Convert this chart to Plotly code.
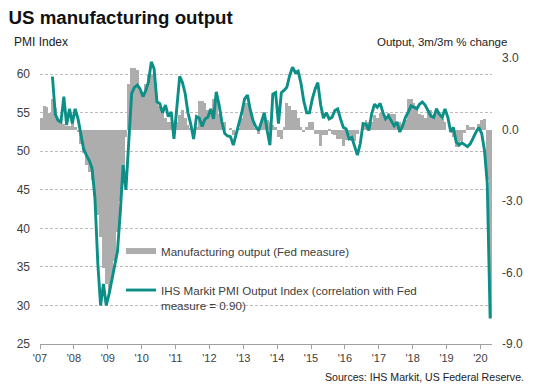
import pandas as pd
import plotly.graph_objects as go

# ---------------- data ----------------
# Fed manufacturing output, 3m/3m % change, monthly Jan 2007 .. Apr 2020
fed_output = [
    0.5, 1.0, 0.95, 0.7, 1.3, 0.9, 0.45, 0.35, 0.25, 0.15, 0.15, 0.3,      # 2007
    0.1, -0.1, -0.6, -1.0, -1.5, -1.8, -2.1, -2.8, -3.6, -4.5, -5.8, -6.5,  # 2008
    -6.8, -6.4, -5.5, -4.3, -3.0, -1.8, -0.3, 1.9, 2.6, 2.6, 2.5, 1.6,      # 2009
    1.5, 1.9, 2.3, 2.3, 2.3, 1.2, 1.0, 0.9, 0.5, 0.3, 0.3, 0.2,             # 2010
    0.3, 0.6, 0.8, 0.5, 0.2, 0.05, 0.0, 0.1, 1.2, 1.2, 1.1, 0.8,            # 2011
    0.7, 1.3, 1.35, 0.65, 0.3, 0.3, 0.0, 0.05, -0.25, 0.0, 0.05, 0.5,       # 2012
    1.1, 1.1, 0.8, 0.4, 0.05, -0.2, 0.3, 0.5, 0.4, 0.3, 0.2, 0.1,           # 2013
    -0.3, -0.4, 0.1, 1.1, 1.0, 0.8, 0.8, 0.5, 0.1, -0.1, 0.1, 0.3,          # 2014
    0.3, -0.2, -0.2, -0.7, -0.25, -0.25, -0.05, -0.2, -0.25, -0.4, -0.4, -0.7,  # 2015
    -0.45, -0.25, -0.5, -0.5, -0.2, 0.0, 0.2, 0.4, 0.3, 0.3, 0.6, 0.5,      # 2016
    0.7, 0.7, 0.5, 0.7, 0.65, 0.65, 0.3, 0.3, 0.25, 0.4, 1.3, 1.3,          # 2017
    1.1, 1.0, 0.65, 0.6, 0.5, 0.8, 0.8, 0.6, 0.9, 0.6, 0.45, 0.3,           # 2018
    0.0, 0.05, -0.3, -0.75, -0.75, -0.5, -0.15, 0.2, 0.1, 0.1, 0.0, 0.25,   # 2019
    0.4, 0.45, -2.1, -7.9,                                                   # 2020
]

# IHS Markit PMI Output Index, monthly May 2007 .. Apr 2020
pmi_output = [
    59.7, 54.8, 54.0, 53.8, 57.1, 53.4, 55.5, 53.6,                          # 2007 May-Dec
    55.5, 54.2, 52.3, 50.3, 49.5, 48.8, 47.8, 44.0, 35.5, 30.0, 32.8, 30.0,  # 2008
    31.5, 33.5, 35.5, 37.0, 42.0, 48.2, 45.0, 52.0, 57.5, 58.3, 58.6, 58.1,  # 2009
    57.1, 57.9, 59.0, 61.6, 60.7, 56.4, 56.2, 55.0, 56.0, 54.5, 55.1, 51.6,  # 2010
    55.3, 59.7, 59.0, 57.5, 55.0, 53.5, 51.6, 54.5, 54.3, 53.2, 54.2, 54.4,  # 2011
    55.5, 54.2, 57.7, 56.0, 53.8, 52.3, 52.0, 51.9, 50.8, 52.1, 53.6, 55.0,  # 2012
    56.8, 57.3, 55.5, 54.0, 53.2, 52.7, 53.8, 55.0, 52.7, 50.8, 57.4, 57.6,  # 2013
    53.6, 57.6, 57.9, 58.3, 59.8, 60.9, 60.2, 60.4, 58.8, 56.5, 55.0, 55.0,  # 2014
    56.8, 58.1, 58.9, 56.0, 54.3, 55.0, 54.2, 54.4, 55.3, 55.5, 54.2, 53.1,  # 2015
    52.9, 51.6, 51.8, 50.6, 49.5, 51.0, 53.6, 53.5, 52.7, 54.8, 56.1, 55.7,  # 2016
    56.2, 55.0, 54.2, 54.6, 54.0, 53.3, 53.8, 52.5, 53.3, 54.4, 55.1, 55.9,  # 2017
    55.7, 55.5, 56.1, 56.4, 56.0, 55.3, 54.6, 54.4, 55.5, 54.8, 54.4, 55.5,  # 2018
    54.4, 52.5, 53.1, 51.2, 50.8, 51.1, 50.8, 50.6, 51.0, 51.8, 52.5, 53.1,  # 2019
    52.3, 50.0, 45.8, 28.3,                                                  # 2020
]

fed_dates = pd.date_range("2007-01-01", periods=len(fed_output), freq="MS") + pd.Timedelta(days=14)
pmi_dates = pd.date_range("2007-05-01", periods=len(pmi_output), freq="MS") + pd.Timedelta(days=14)

left_ticks = [25, 30, 35, 40, 45, 50, 55, 60]
right_ticks = [3, 0, -3, -6, -9]
right_tick_labels = ["3.0", "0.0", "-3.0", "-6.0", "-9.0"]

bar_name = "Manufacturing output (Fed measure)"
line_name = "IHS Markit PMI Output Index (correlation with Fed<br>measure = 0.90)"

# ---------------- styles ----------------
FONT = "Liberation Sans, Arial, sans-serif"
TEAL = "#0b8f87"
GREY_BAR = "#adadad"
TXT = "#404040"

# the page body adds an 8px offset, so the figure is drawn 8px smaller
W, H = 531, 383

fig = go.Figure()

# bars on the main (right-side) axis so the line overlays them
fig.add_trace(go.Bar(
    x=fed_dates, y=fed_output, yaxis="y",
    marker=dict(color=GREY_BAR, line=dict(width=0)),
    width=[31 * 86400000] * len(fed_output),
    showlegend=False, name=bar_name, hoverinfo="skip",
))
# legend entry for the bars (wide grey swatch)
fig.add_trace(go.Scatter(
    x=[None], y=[None], mode="lines", yaxis="y2",
    line=dict(color=GREY_BAR, width=6),
    name=bar_name, legendgroup="a",
))
fig.add_trace(go.Scatter(
    x=pmi_dates, y=pmi_output, yaxis="y2", mode="lines",
    line=dict(color=TEAL, width=2.9),
    name=line_name, legendgroup="b",
))

fig.update_layout(
    width=W, height=H,
    margin=dict(l=32, r=47, t=50, b=47),
    paper_bgcolor="white", plot_bgcolor="white",
    font=dict(family=FONT, size=12, color=TXT),
    bargap=0,
    title=dict(
        text="<b>US manufacturing output</b>",
        x=0.5 / W, xref="container", xanchor="left",
        y=1 - 9.5 / H, yref="container", yanchor="middle",
        font=dict(family=FONT, size=18.7, color="#111111"),
        automargin=False,
    ),
    xaxis=dict(
        type="date", automargin=False,
        range=["2007-01-01", "2020-05-05"],
        dtick="M12", tick0="2007-01-01",
        tickformat="'%y",
        ticks="outside", ticklen=4, tickcolor="#a0a0a0",
        showline=True, linecolor="#a0a0a0", linewidth=1,
        showgrid=False, zeroline=False,
        tickfont=dict(size=11, color=TXT),
    ),
    yaxis=dict(
        side="right", range=[-9, 3], automargin=False,
        tickvals=right_ticks, ticktext=right_tick_labels,
        showgrid=False, zeroline=False, showline=False,
        ticks="", ticklabelstandoff=9,
        tickfont=dict(size=12, color=TXT),
    ),
    yaxis2=dict(
        overlaying="y", side="left", range=[25, 62.1], automargin=False,
        tickvals=left_ticks,
        showgrid=True, gridcolor="#bdbdbd", gridwidth=1, griddash="3px,2px",
        zeroline=False, showline=False,
        ticks="", ticklabelstandoff=9,
        tickfont=dict(size=12, color=TXT),
    ),
    legend=dict(
        x=(121 - 40) / 452, xanchor="left",
        y=(344 - 237) / 286, yanchor="top",
        bgcolor="rgba(0,0,0,0)", borderwidth=0,
        font=dict(size=11.6, color=TXT),
        traceorder="grouped", tracegroupgap=20,
        valign="top", itemwidth=30,
    ),
    annotations=[
        dict(text="PMI Index", xref="paper", yref="paper",
             x=(12 - 40) / 452, y=(344 - 42) / 286,
             xanchor="left", yanchor="middle", showarrow=False,
             font=dict(size=12, color="#222222")),
        dict(text="Output, 3m/3m % change", xref="paper", yref="paper",
             x=(509 - 40) / 452, y=(344 - 42) / 286,
             xanchor="right", yanchor="middle", showarrow=False,
             font=dict(size=11.5, color="#222222")),
        dict(text="Sources: IHS Markit, US Federal Reserve.", xref="paper", yref="paper",
             x=(526 - 40) / 452, y=(344 - 377) / 286,
             xanchor="right", yanchor="middle", showarrow=False,
             font=dict(size=10.6, color="#222222")),
    ],
)

fig.write_html("out.html")
